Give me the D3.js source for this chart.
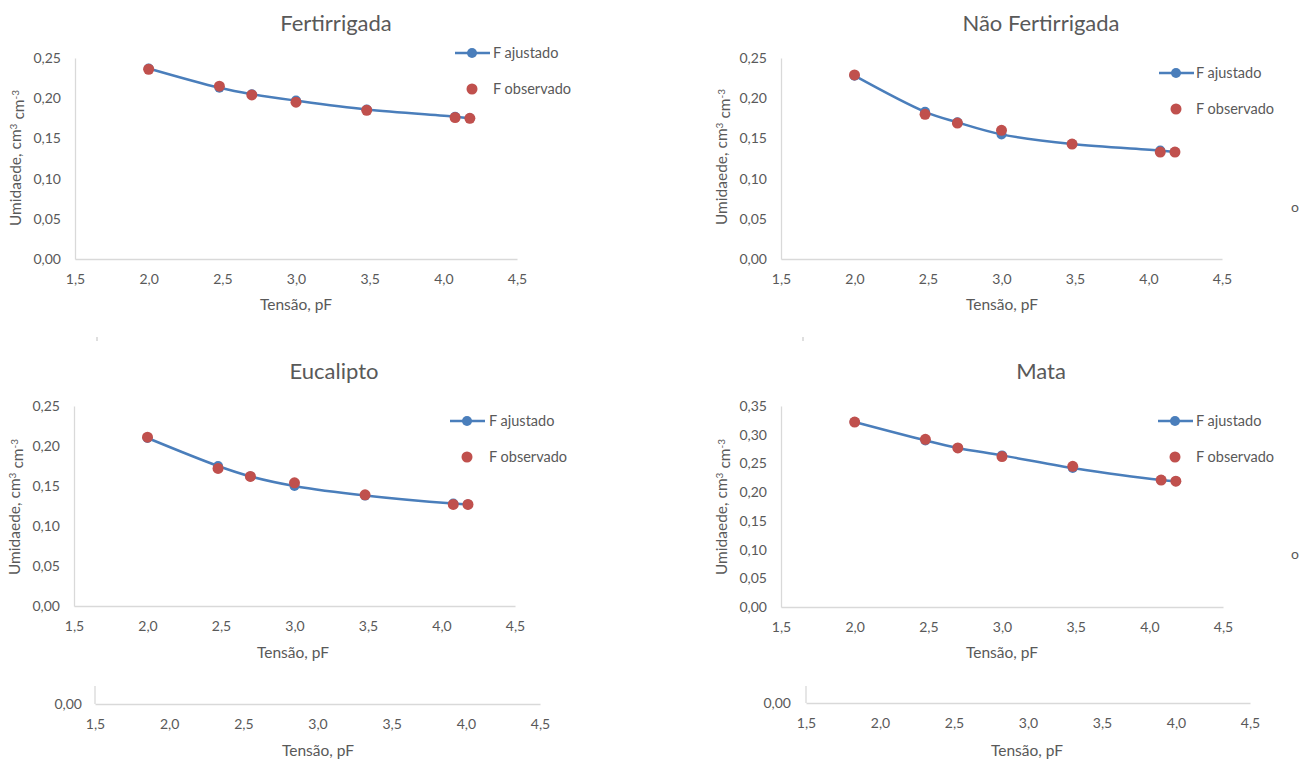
<!DOCTYPE html>
<html>
<head>
<meta charset="utf-8">
<script src="https://cdn.jsdelivr.net/npm/d3@7"></script>
<style>
body { margin: 0; background: #fff; }
text { font-family: Lato, "Open Sans", sans-serif; fill: #595959; }
.tick text { font-size: 14px; }
.title { font-size: 22px; }
.axis-title { font-size: 15.5px; }
.legend { font-size: 14.5px; }
</style>
</head>
<body>
<div id="chart"></div>
<script>
// pF values (x) shared by all four panels
let pF = [2.0, 2.48, 2.7, 3.0, 3.48, 4.08, 4.18];

let fertAjustado   = [0.237, 0.213, 0.205, 0.197, 0.186, 0.177, 0.175];
let fertObservado  = [0.236, 0.215, 0.204, 0.195, 0.185, 0.176, 0.175];
let naoAjustado    = [0.228, 0.183, 0.170, 0.155, 0.143, 0.135, 0.133];
let naoObservado   = [0.229, 0.180, 0.169, 0.160, 0.143, 0.133, 0.133];
let eucAjustado    = [0.210, 0.175, 0.162, 0.150, 0.138, 0.128, 0.127];
let eucObservado   = [0.211, 0.172, 0.162, 0.154, 0.139, 0.127, 0.127];
let mataAjustado   = [0.322, 0.290, 0.277, 0.264, 0.242, 0.221, 0.219];
let mataObservado  = [0.322, 0.292, 0.277, 0.262, 0.245, 0.221, 0.219];

let xTicks = [1.5, 2.0, 2.5, 3.0, 3.5, 4.0, 4.5];
let yTicksA = [0, 0.05, 0.10, 0.15, 0.20, 0.25];
let yTicksB = [0, 0.05, 0.10, 0.15, 0.20, 0.25, 0.30, 0.35];
let titles = ["Fertirrigada", "Não Fertirrigada", "Eucalipto", "Mata"];
let legendLabels = ["F ajustado", "F observado"];
let xTitle = "Tensão, pF";

let blue = "#4a7ebb", red = "#c0504d", axisColor = "#d9d9d9";

let svg = d3.select("#chart")
    .append("svg")
    .attr("width", 1310)
    .attr("height", 762);

let commaFmt = function(spec) {
    let f = d3.format(spec);
    return function(d) { return f(d).replace(".", ","); };
};

let panels = [
    { title: titles[0], fit: fertAjustado, obs: fertObservado, yTicks: yTicksA,
      left: 75, right: 517, top: 58, bottom: 259, titleX: 336, titleY: 23,
      legX: 472, legY: 53, legText: 493, yLabX: 16, yLabY: 158, xLabX: 296, xLabY: 305 },
    { title: titles[1], fit: naoAjustado, obs: naoObservado, yTicks: yTicksA,
      left: 781, right: 1222, top: 58, bottom: 259, titleX: 1041, titleY: 23,
      legX: 1176, legY: 73, legText: 1196, yLabX: 722, yLabY: 157, xLabX: 1002, xLabY: 305 },
    { title: titles[2], fit: eucAjustado, obs: eucObservado, yTicks: yTicksA,
      left: 74, right: 515, top: 406, bottom: 606, titleX: 334, titleY: 371,
      legX: 467, legY: 421, legText: 489, yLabX: 15, yLabY: 507, xLabX: 293, xLabY: 653 },
    { title: titles[3], fit: mataAjustado, obs: mataObservado, yTicks: yTicksB,
      left: 781, right: 1223, top: 406, bottom: 607, titleX: 1041, titleY: 371,
      legX: 1175, legY: 421, legText: 1196, yLabX: 722, yLabY: 507, xLabX: 1002, xLabY: 653 }
];

function styleAxis(g) {
    g.attr("font-size", null).attr("font-family", null);
    g.select(".domain").attr("stroke", axisColor).attr("stroke-width", 1.3);
}

function drawPanel(p) {
    let g = svg.append("g");
    let x = d3.scaleLinear().domain([1.5, 4.5]).range([p.left, p.right]);
    let y = d3.scaleLinear().domain([0, d3.max(p.yTicks)]).range([p.bottom, p.top]);

    g.append("g")
        .attr("transform", `translate(0, ${p.bottom})`)
        .call(d3.axisBottom(x).tickValues(xTicks).tickSize(0).tickPadding(15).tickFormat(commaFmt(".1f")))
        .call(styleAxis);

    g.append("g")
        .attr("transform", `translate(${p.left}, 0)`)
        .call(d3.axisLeft(y).tickValues(p.yTicks).tickSize(0).tickPadding(14).tickFormat(commaFmt(".2f")))
        .call(styleAxis);

    let rows = pF.map(function(v, i) { return { x: v, fit: p.fit[i], obs: p.obs[i] }; });

    let line = d3.line()
        .x(function(d) { return x(d.x); })
        .y(function(d) { return y(d.fit); })
        .curve(d3.curveCatmullRom.alpha(0.5));

    g.append("path")
        .datum(rows)
        .attr("d", line)
        .attr("fill", "none")
        .attr("stroke", blue)
        .attr("stroke-width", 2.5);

    g.selectAll(".fit").data(rows).enter()
        .append("circle")
        .attr("cx", function(d) { return x(d.x); })
        .attr("cy", function(d) { return y(d.fit); })
        .attr("r", 5)
        .attr("fill", blue);

    g.selectAll(".obs").data(rows).enter()
        .append("circle")
        .attr("cx", function(d) { return x(d.x); })
        .attr("cy", function(d) { return y(d.obs); })
        .attr("r", 5.5)
        .attr("fill", red);

    g.append("text")
        .attr("class", "title")
        .attr("x", p.titleX).attr("y", p.titleY)
        .attr("dy", "0.35em")
        .style("text-anchor", "middle")
        .text(p.title);

    // legend
    g.append("line")
        .attr("x1", p.legX - 17).attr("x2", p.legX + 18)
        .attr("y1", p.legY).attr("y2", p.legY)
        .attr("stroke", blue).attr("stroke-width", 2.5);
    g.append("circle").attr("cx", p.legX).attr("cy", p.legY).attr("r", 5).attr("fill", blue);
    g.append("circle").attr("cx", p.legX).attr("cy", p.legY + 36).attr("r", 5.5).attr("fill", red);
    legendLabels.forEach(function(lbl, i) {
        g.append("text")
            .attr("class", "legend")
            .attr("x", p.legText).attr("y", p.legY + i * 36)
            .attr("dy", "0.35em")
            .text(lbl);
    });

    g.append("text")
        .attr("class", "axis-title")
        .attr("x", p.xLabX).attr("y", p.xLabY)
        .attr("dy", "0.35em")
        .style("text-anchor", "middle")
        .text(xTitle);

    let yl = g.append("text")
        .attr("class", "axis-title")
        .attr("transform", `translate(${p.yLabX}, ${p.yLabY}) rotate(-90)`)
        .attr("dy", "0.35em")
        .style("text-anchor", "middle");
    yl.append("tspan").text("Umidaede, cm");
    yl.append("tspan").attr("dy", "-0.45em").style("font-size", "10px").text("3");
    yl.append("tspan").attr("dy", "0.45em").text(" cm");
    yl.append("tspan").attr("dy", "-0.45em").style("font-size", "10px").text("-3");
}

panels.forEach(drawPanel);

// cut-off copies of the lower axes at the bottom of the page
let stubs = [
    { left: 95, right: 540, axisY: 704, top: 686, zeroX: 82, titleX: 318 },
    { left: 806, right: 1250, axisY: 703, top: 686, zeroX: 791, titleX: 1027 }
];

stubs.forEach(function(s) {
    let x = d3.scaleLinear().domain([1.5, 4.5]).range([s.left, s.right]);
    svg.append("g")
        .attr("transform", `translate(0, ${s.axisY})`)
        .call(d3.axisBottom(x).tickValues(xTicks).tickSize(0).tickPadding(15).tickFormat(commaFmt(".1f")))
        .call(styleAxis);
    svg.append("line")
        .attr("x1", s.left).attr("x2", s.left)
        .attr("y1", s.top).attr("y2", s.axisY)
        .attr("stroke", axisColor).attr("stroke-width", 1.3);
    svg.append("text")
        .attr("class", "tick")
        .attr("x", s.zeroX).attr("y", s.axisY)
        .attr("dy", "0.35em")
        .style("text-anchor", "end")
        .style("font-size", "14px")
        .text(commaFmt(".2f")(0));
    svg.append("text")
        .attr("class", "axis-title")
        .attr("x", s.titleX).attr("y", 751)
        .attr("dy", "0.35em")
        .style("text-anchor", "middle")
        .text(xTitle);
});

// tiny leftover marks and stray letters from the source layout
[97, 803].forEach(function(mx) {
    svg.append("line")
        .attr("x1", mx).attr("x2", mx).attr("y1", 337).attr("y2", 341)
        .attr("stroke", "#bfbfbf").attr("stroke-width", 1);
});
[207, 554].forEach(function(oy) {
    svg.append("text")
        .attr("x", 1295).attr("y", oy)
        .attr("dy", "0.35em")
        .style("text-anchor", "middle")
        .style("font-size", "14px")
        .text("o");
});
</script>
</body>
</html>
